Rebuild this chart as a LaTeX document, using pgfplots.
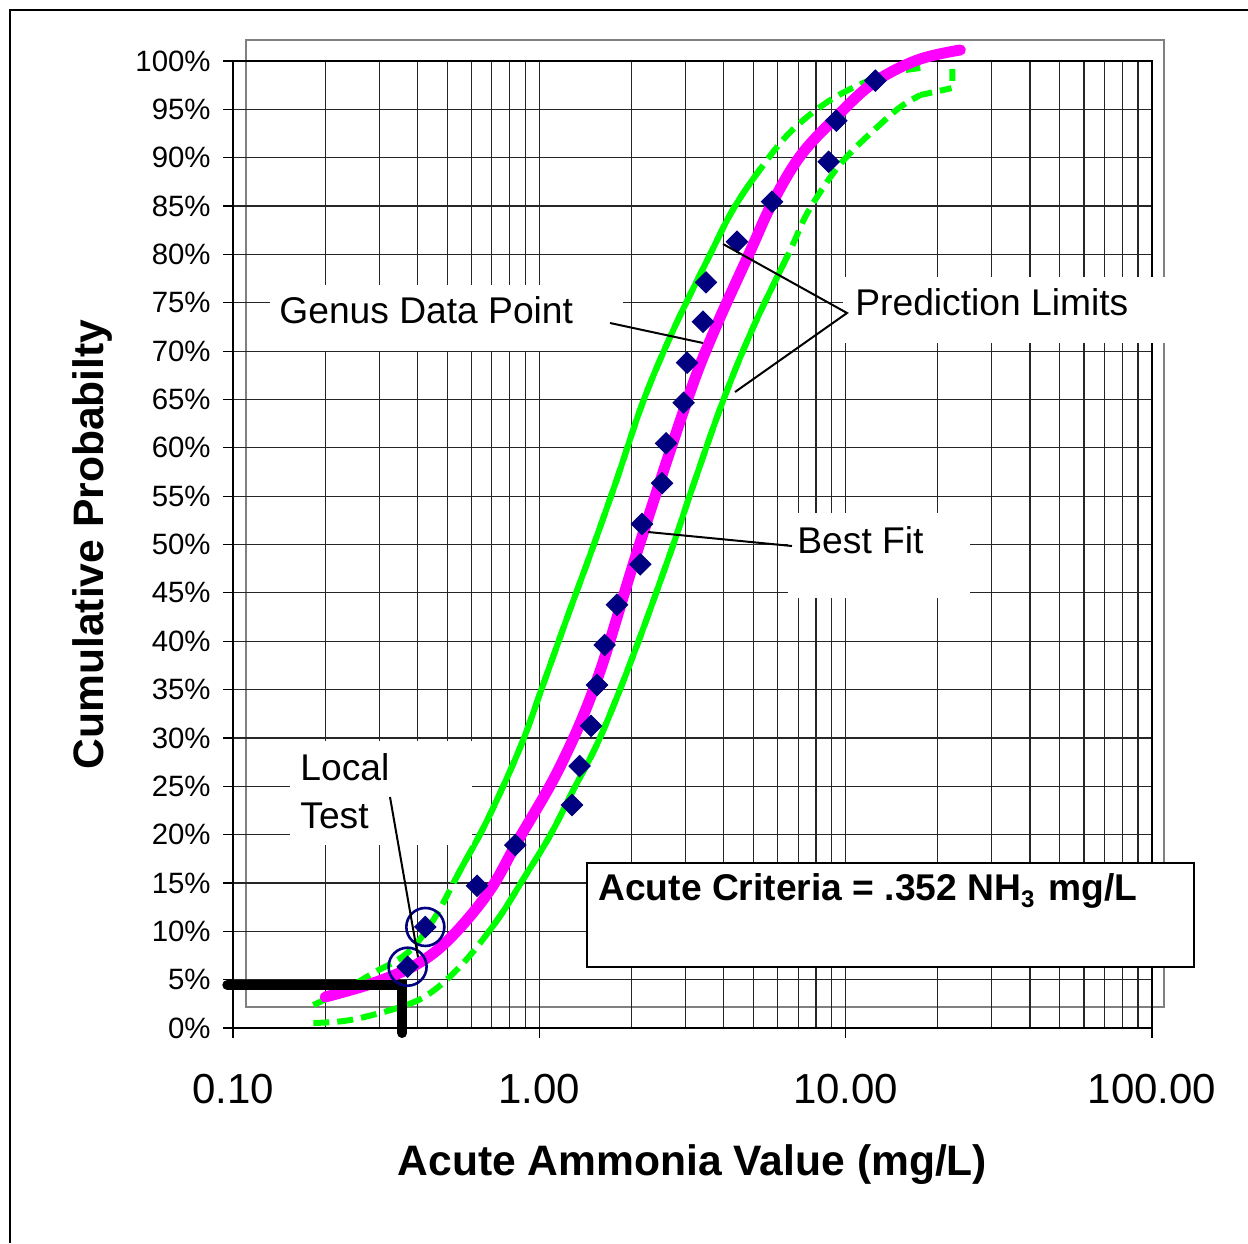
\documentclass[border=0pt]{standalone}
\usepackage{fontspec}
\setmainfont{Liberation Sans}
\usepackage{pgfplots}
\usepackage{pgfplotstable}
\pgfplotsset{compat=1.18}
\definecolor{plime}{RGB}{0,255,0}
\definecolor{pmag}{RGB}{255,0,255}
\definecolor{pnavy}{RGB}{0,0,128}
\definecolor{pgray}{RGB}{128,128,128}
\pgfplotstableread{
x y
0.1829 2.38
0.2300 3.90
0.2871 5.69
0.3707 7.76
0.4508 11.17
0.5523 16.34
0.6765 21.51
0.8670 29.06
1.0305 35.57
1.2343 42.50
1.5005 49.84
1.797 56.88
2.185 64.84
2.737 72.18
3.615 80.04
4.298 84.69
5.265 88.83
6.597 92.66
8.713 95.76
11.42 97.73
13.99 98.76
17.53 99.28
}\upperpl
\pgfplotstableread{
x y
0.1829 0.52
0.2415 0.83
0.3517 2.17
0.4406 3.62
0.5647 6.72
0.7293 11.17
0.8867 15.41
1.0862 19.96
1.2912 24.61
1.5816 30.09
2.027 38.57
2.677 49.12
3.182 56.15
3.988 64.94
4.995 72.49
6.597 80.46
7.497 84.28
9.117 88.42
10.59 90.80
12.69 93.18
15.08 95.24
17.53 96.48
}\lowerpl
\begin{document}
\begin{tikzpicture}
\begin{scope}[x=0.5pt,y=-0.5pt]
\useasboundingbox (0,0) rectangle (1248,1243);
\draw[black,line width=0.6pt] (10,1243) -- (10,10) -- (1248,10);
\draw[pgray,line width=1.2pt] (246,40) rectangle (1164,1007);
\end{scope}
\begin{axis}[
  at={(116.5pt,-514pt)}, anchor=south west,
  width=459.5pt, height=483.5pt, scale only axis,
  xmode=log, xmin=0.1, xmax=100, ymin=0, ymax=100,
  clip=false,
  xtick={0.1,1,10,100}, xticklabels={0.10,1.00,10.00,100.00},
  minor xtick={0.2,0.3,0.4,0.5,0.6,0.7,0.8,0.9,2,3,4,5,6,7,8,9,20,30,40,50,60,70,80,90},
  ytick={0,5,...,100},
  yticklabels={0\%,5\%,10\%,15\%,20\%,25\%,30\%,35\%,40\%,45\%,50\%,55\%,60\%,65\%,70\%,75\%,80\%,85\%,90\%,95\%,100\%},
  grid=both,
  major grid style={black!85,line width=0.6pt},
  minor grid style={black!85,line width=0.6pt},
  axis line style={black,line width=0.6pt},
  tick style={black,line width=0.6pt},
  tick align=outside,
  major tick length=5pt,
  minor tick length=0pt,
  xtick pos=bottom, ytick pos=left,
  yticklabel style={font=\fontsize{14.7pt}{17pt}\selectfont, anchor=east, inner sep=0pt, xshift=-6pt},
  xticklabel style={font=\fontsize{21pt}{24pt}\selectfont, anchor=north, inner sep=0pt, yshift=-18pt},
  xlabel={Acute Ammonia Value (mg/L)},
  ylabel={Cumulative Probabilty},
  xlabel style={font=\bfseries\fontsize{21.3pt}{24pt}\selectfont, at={(axis description cs:0.5,-0.1415)}, anchor=center, inner sep=0pt},
  ylabel style={font=\bfseries\fontsize{21.3pt}{24pt}\selectfont, at={(axis description cs:-0.1534,0.5)}, anchor=center, inner sep=0pt},
]
% prediction limits, dashed over their whole length
\addplot[plime, line width=3pt, smooth, tension=0.6, dash pattern=on 8pt off 4pt] table {\upperpl};
\addplot[plime, line width=3pt, smooth, tension=0.6, dash pattern=on 8pt off 4pt] table {\lowerpl};
\addplot[plime, line width=3pt, dash pattern=on 6pt off 4pt] coordinates {
 (17.53,96.48) (22.30,97.21) (22.30,99.79)};
% solid middle parts
\begin{scope}
\clip (axis cs:0.05,15) rectangle (axis cs:200,89);
\addplot[plime, line width=3pt, smooth, tension=0.6] table {\upperpl};
\end{scope}
\begin{scope}
\clip (axis cs:0.05,10) rectangle (axis cs:200,80);
\addplot[plime, line width=3pt, smooth, tension=0.6] table {\lowerpl};
\end{scope}
% best fit
\addplot[pmag, line width=5.5pt, line cap=round, line join=round, smooth, tension=0.6] coordinates {
 (0.2001,3.21) (0.2871,4.65) (0.3997,6.62) (0.5122,9.31) (0.6836,14.06) (0.8540,19.44)
 (1.1711,27.09) (1.5464,36.09) (2.105,49.64) (3.042,64.94) (3.698,71.87) (4.884,80.35)
 (5.763,85.32) (7.112,90.18) (9.253,94.11) (12.31,97.73) (17.14,100.10) (23.68,101.14)};
% genus data points
\addplot[only marks, mark=square*, mark size=3.8pt, mark options={rotate=45, fill=pnavy, draw=pnavy}] coordinates {
 (0.3716,6.34) (0.4245,10.45) (0.6262,14.71) (0.8346,18.92) (1.2787,23.06) (1.3537,27.09)
 (1.4749,31.24) (1.5430,35.47) (1.6339,39.61) (1.7936,43.77) (2.1366,47.95) (2.1641,52.12)
 (2.5153,56.34) (2.5924,60.47) (2.9591,64.66) (3.0357,68.80) (3.4227,73.04) (3.5007,77.11)
 (4.4196,81.31) (5.7505,85.45) (8.8008,89.58) (9.3216,93.83) (12.50,97.97)};
% local test circles
\addplot[only marks, mark=o, mark size=9.5pt, mark options={draw=pnavy, line width=1.3pt}] coordinates {
 (0.3716,6.34) (0.4245,10.45)};
% acute criterion
\addplot[black, line width=5pt, line cap=round] coordinates {
 (0.0958,4.45) (0.357,4.45) (0.357,-0.52)};
\end{axis}
\begin{scope}[x=0.5pt,y=-0.5pt, font=\fontsize{18.6pt}{22pt}\selectfont]
\fill[white] (270,285) rectangle (623,351);
\node[anchor=base west, inner sep=0pt] at (279,323) {Genus Data Point};
\draw[black, line width=1pt] (610,323) -- (703,343);
\fill[white] (843,277) rectangle (1166,343);
\node[anchor=base west, inner sep=0pt] at (855,315) {Prediction Limits};
\draw[black, line width=1pt] (723,244) -- (847,313) -- (735,392);
\fill[white] (788,513) rectangle (970,598);
\node[anchor=base west, inner sep=0pt] at (797,553) {Best Fit};
\draw[black, line width=1pt] (648,532) -- (792,546);
\fill[white] (290,741) rectangle (472,845);
\node[anchor=base west, inner sep=0pt] at (300,780) {Local};
\node[anchor=base west, inner sep=0pt] at (300,828) {Test};
\draw[black, line width=1pt] (390,797) -- (418,957);
\draw[black, fill=white, line width=1.3pt] (587,863) rectangle (1194,967);
\node[anchor=base west, inner sep=0pt, font=\bfseries\fontsize{18.6pt}{22pt}\selectfont] at (598,900)
 {Acute Criteria = .352 NH\raisebox{-3.5pt}{\fontsize{12pt}{12pt}\selectfont 3}\hspace{7pt}mg/L};
\end{scope}
\end{tikzpicture}
\end{document}
